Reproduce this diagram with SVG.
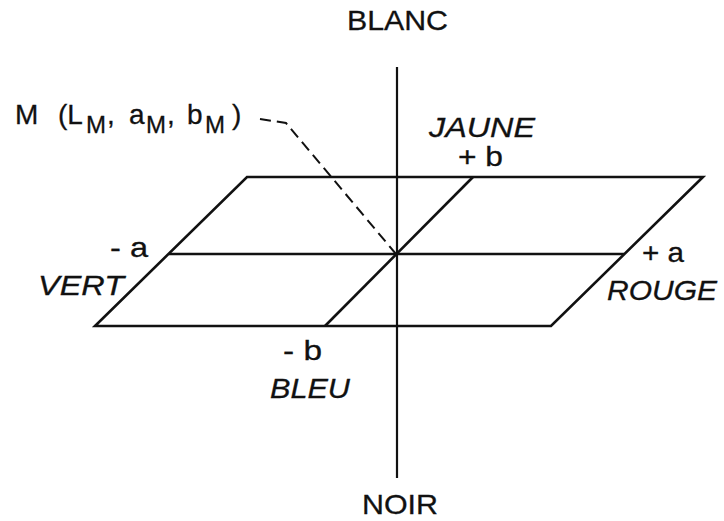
<svg xmlns="http://www.w3.org/2000/svg" width="724" height="521" viewBox="0 0 724 521">
<style>
.ln{stroke:#111;stroke-width:2.6;fill:none;stroke-linejoin:miter}
.ax{stroke:#111;stroke-width:2.2;fill:none}
.t{font-family:"Liberation Sans",Arial,sans-serif;font-size:28px;fill:#111;stroke:#111;stroke-width:0.3}
.i{font-style:italic}
.s{font-size:24px}
</style>
<rect width="724" height="521" fill="#fff"/>
<g id="connectors">
<line class="ax" x1="397" y1="67" x2="397" y2="478"/>
<polygon class="ln" points="247,177 703,177 551,326 95,326"/>
<line class="ln" x1="169" y1="254" x2="624" y2="254"/>
<line class="ln" x1="473" y1="177" x2="325" y2="326"/>
<polyline points="260,119 286,123 396,254" fill="none" stroke="#111" stroke-width="2" stroke-dasharray="11,6"/>
</g>
<g id="blanc"><text class="t" x="347" y="30" textLength="101" lengthAdjust="spacingAndGlyphs">BLANC</text></g>
<g id="noir"><text class="t" x="362" y="514" textLength="76" lengthAdjust="spacingAndGlyphs">NOIR</text></g>
<g id="m"><text class="t" y="124"><tspan x="15">M</tspan><tspan x="58">(L</tspan><tspan class="s" x="86" dy="9">M</tspan><tspan x="107" dy="-9">,</tspan><tspan x="129">a</tspan><tspan class="s" x="146" dy="9">M</tspan><tspan x="167" dy="-9">,</tspan><tspan x="187">b</tspan><tspan class="s" x="205" dy="9">M</tspan><tspan x="232" dy="-9">)</tspan></text></g>
<g id="jaune"><text class="t i" x="429" y="137" textLength="106" lengthAdjust="spacingAndGlyphs">JAUNE</text>
<text class="t" x="458" y="166" textLength="45" lengthAdjust="spacingAndGlyphs">+ b</text></g>
<g id="vert"><text class="t" x="110" y="257" textLength="38" lengthAdjust="spacingAndGlyphs">- a</text>
<text class="t i" x="38" y="295" textLength="86" lengthAdjust="spacingAndGlyphs">VERT</text></g>
<g id="rouge"><text class="t" x="642" y="262" textLength="42" lengthAdjust="spacingAndGlyphs">+ a</text>
<text class="t i" x="607" y="300" textLength="110" lengthAdjust="spacingAndGlyphs">ROUGE</text></g>
<g id="bleu"><text class="t" x="283" y="360" textLength="39" lengthAdjust="spacingAndGlyphs">- b</text>
<text class="t i" x="270" y="398" textLength="80" lengthAdjust="spacingAndGlyphs">BLEU</text></g>
</svg>
